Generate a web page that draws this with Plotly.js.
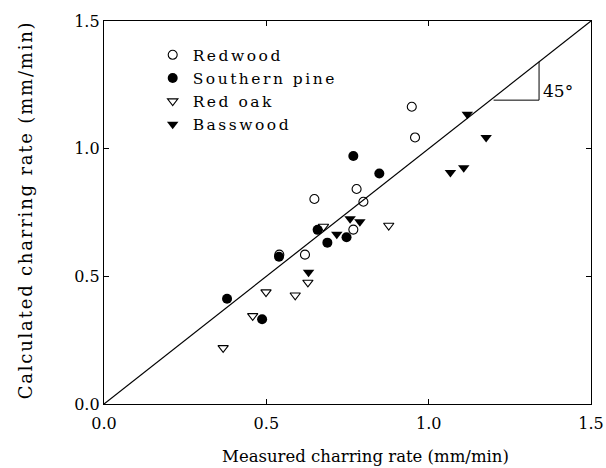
<!DOCTYPE html>
<html>
<head>
<meta charset="utf-8">
<script src="https://cdn.plot.ly/plotly-3.0.1.min.js"></script>
<style>
html, body { margin: 0; padding: 0; background: #fff; }
#chart { width: 606px; height: 468px; }
.legendtext { letter-spacing: 2.5px; }
</style>
</head>
<body>
<div id="chart"></div>
<script>
// Series data (mm/min): measured (x) vs calculated (y)
const redwoodX = [0.948, 0.958, 0.648, 0.778, 0.799, 0.768, 0.619, 0.540];
const redwoodY = [1.164, 1.044, 0.803, 0.842, 0.792, 0.683, 0.585, 0.585];

const pineX = [0.768, 0.848, 0.658, 0.688, 0.747, 0.539, 0.379, 0.487];
const pineY = [0.971, 0.903, 0.682, 0.632, 0.653, 0.577, 0.412, 0.332];

const oakX = [0.676, 0.877, 0.628, 0.589, 0.499, 0.458, 0.367];
const oakY = [0.695, 0.699, 0.476, 0.426, 0.438, 0.345, 0.220];

const bassX = [1.119, 1.177, 1.067, 1.108, 0.758, 0.788, 0.717, 0.630];
const bassY = [1.135, 1.044, 0.907, 0.925, 0.726, 0.714, 0.665, 0.516];

const lineX = [0, 1.5];
const lineY = [0, 1.5];

const tickVals = [0, 0.5, 1.0, 1.5];
const tickText = ["0.0", "0.5", "1.0", "1.5"];

const xTitle = "Measured charring rate (mm/min)";
const yTitle = "Calculated charring rate (mm/min)";

const FONT = "DejaVu Serif, serif";

const traces = [
  { x: lineX, y: lineY, mode: "lines", line: { color: "#000", width: 1.2 },
    showlegend: false, hoverinfo: "skip" },
  { x: redwoodX, y: redwoodY, mode: "markers", name: "Redwood",
    marker: { symbol: "circle-open", size: 9, color: "#000", line: { width: 1.1 } } },
  { x: pineX, y: pineY, mode: "markers", name: "Southern pine",
    marker: { symbol: "circle", size: 10, color: "#000" } },
  { x: oakX, y: oakY, mode: "markers", name: "Red oak",
    marker: { symbol: "triangle-down-open", size: 9, color: "#000", line: { width: 1.1 } } },
  { x: bassX, y: bassY, mode: "markers", name: "Basswood",
    marker: { symbol: "triangle-down", size: 10, color: "#000" } }
];

const axisCommon = {
  range: [0, 1.5],
  tickvals: tickVals,
  ticktext: tickText,
  ticks: "inside",
  ticklen: 5,
  tickwidth: 1,
  tickcolor: "#000",
  showline: true,
  linecolor: "#000",
  linewidth: 1.2,
  mirror: "ticks",
  showgrid: false,
  zeroline: false,
  tickfont: { family: FONT, size: 16, color: "#000" }
};

const layout = {
  width: 606,
  height: 468,
  margin: { l: 103.5, r: 14.5, t: 20.7, b: 63.7 },
  paper_bgcolor: "#fff",
  plot_bgcolor: "#fff",
  font: { family: FONT, color: "#000" },
  xaxis: Object.assign({}, axisCommon, { ticklabelstandoff: 5 }),
  yaxis: Object.assign({}, axisCommon),
  legend: {
    x: 0.1, y: 0.955, xanchor: "left", yanchor: "top",
    bgcolor: "rgba(0,0,0,0)",
    font: { family: FONT, size: 15.5, color: "#000" },
    tracegroupgap: 0
  },
  shapes: [
    { type: "line", xref: "x", yref: "y", x0: 1.34, y0: 1.34, x1: 1.34, y1: 1.19,
      line: { color: "#000", width: 1 } },
    { type: "line", xref: "x", yref: "y", x0: 1.20, y0: 1.19, x1: 1.34, y1: 1.19,
      line: { color: "#000", width: 1 } }
  ],
  annotations: [
    { x: 1.345, y: 1.225, xref: "x", yref: "y", text: "45°", showarrow: false,
      xanchor: "left", yanchor: "middle", font: { family: FONT, size: 17, color: "#000" } },
    { x: 366, y: 457, xref: "paper", yref: "paper", text: xTitle, showarrow: false,
      xanchor: "center", yanchor: "middle", font: { family: FONT, size: 16.5, color: "#000" } },
    { x: 24, y: 210, xref: "paper", yref: "paper", text: yTitle, showarrow: false,
      textangle: -90, xanchor: "center", yanchor: "middle",
      font: { family: FONT, size: 18, color: "#000" } }
  ]
};

// convert the title pixel positions to paper fractions
(function () {
  const pw = layout.width - layout.margin.l - layout.margin.r;
  const ph = layout.height - layout.margin.t - layout.margin.b;
  [layout.annotations[1], layout.annotations[2]].forEach(function (a) {
    a.x = (a.x - layout.margin.l) / pw;
    a.y = (layout.height - layout.margin.b - a.y) / ph;
  });
})();

Plotly.newPlot("chart", traces, layout, { displayModeBar: false, staticPlot: true }).then(function (gd) {
  gd.querySelectorAll(".annotation-text").forEach(function (t) {
    if (t.textContent === yTitle) t.style.letterSpacing = "1.8px";
  });
});
</script>
</body>
</html>
